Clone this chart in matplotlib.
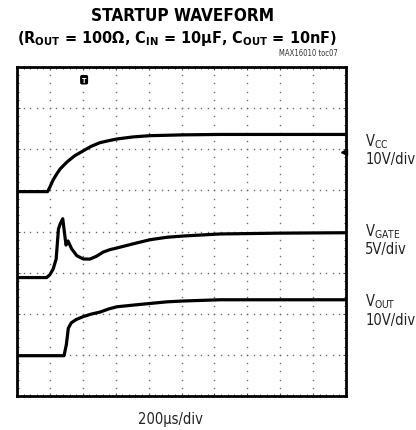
import numpy as np
import matplotlib
matplotlib.use('Agg')
import matplotlib.pyplot as plt

# condensed sans to mimic the narrow datasheet lettering
plt.rcParams['font.family'] = ['DejaVu Sans']
plt.rcParams['font.stretch'] = 'condensed'
plt.rcParams['mathtext.fontset'] = 'custom'
plt.rcParams['mathtext.rm'] = 'DejaVu Sans:stretch=condensed'
plt.rcParams['mathtext.bf'] = 'DejaVu Sans:weight=bold:stretch=condensed'

# DATA (in scope divisions: x 0..10, y 0..8)
vcc_x = [0, 0.93, 1.0, 1.09, 1.2, 1.31, 1.52, 1.75, 2.01, 2.25, 2.52, 2.8, 3.04, 3.53, 4.04, 5.05, 6.17, 8.0, 10.0]
vcc_y = [4.97, 4.97, 5.08, 5.24, 5.39, 5.52, 5.69, 5.84, 5.96, 6.07, 6.16, 6.21, 6.25, 6.30, 6.33, 6.35, 6.36, 6.36, 6.36]

vgate_x = [0, 0.90, 1.00, 1.10, 1.19, 1.26, 1.31, 1.39, 1.44, 1.49, 1.55, 1.66, 1.82, 2.02, 2.22,
           2.42, 2.62, 2.83, 3.04, 3.53, 4.04, 4.56, 5.05, 6.17, 8.0, 10.0]
vgate_y = [2.88, 2.88, 2.95, 3.09, 3.33, 4.06, 4.18, 4.31, 3.99, 3.67, 3.77, 3.58, 3.41, 3.33, 3.33,
           3.40, 3.50, 3.56, 3.60, 3.70, 3.80, 3.86, 3.89, 3.94, 3.96, 3.97]

vout_x = [0, 1.43, 1.50, 1.56, 1.65, 1.80, 2.01, 2.25, 2.52, 2.8, 3.04, 3.53, 4.04, 4.56, 5.05, 6.17, 8.0, 10.0]
vout_y = [0.98, 0.98, 1.25, 1.65, 1.78, 1.86, 1.93, 1.99, 2.04, 2.12, 2.17, 2.21, 2.25, 2.29, 2.31, 2.34, 2.34, 2.34]

trace_labels = [r'V$_{\mathrm{CC}}$' + '\n10V/div',
                r'V$_{\mathrm{GATE}}$' + '\n5V/div',
                r'V$_{\mathrm{OUT}}$' + '\n10V/div']
label_y = [6.02, 3.83, 2.11]   # label block centres (divisions)

N_XDIV, N_YDIV = 10, 8
TRIG_X = 2.04
GND_Y = 5.93

W, H = 416, 431
fig = plt.figure(figsize=(W / 100, H / 100), dpi=100)
ax = fig.add_axes([17 / W, 34 / H, 329 / W, 329 / H])
ax.set_xlim(0, N_XDIV)
ax.set_ylim(0, N_YDIV)

# dotted graticule
xs_minor = np.arange(0, N_XDIV + 0.01, 0.2)
ys_minor = np.arange(0, N_YDIV + 0.01, 0.2)
for gy in range(1, N_YDIV):
    ax.plot(xs_minor, np.full_like(xs_minor, gy), ls='none', marker='s', ms=1.0,
            mew=0, color='#6a6a6a', zorder=1)
for gx in range(1, N_XDIV):
    ax.plot(np.full_like(ys_minor, gx), ys_minor, ls='none', marker='s', ms=1.0,
            mew=0, color='#6a6a6a', zorder=1)

ax.set_xticks(np.arange(0, N_XDIV + 1, 1))
ax.set_yticks(np.arange(0, N_YDIV + 1, 1))
ax.set_xticks(xs_minor, minor=True)
ax.set_yticks(ys_minor, minor=True)
ax.tick_params(which='both', direction='in', top=True, right=True,
               labelbottom=False, labelleft=False, color='#444')
ax.tick_params(which='major', length=2.5, width=0.8)
ax.tick_params(which='minor', length=1.6, width=0.7)
for s in ax.spines.values():
    s.set_linewidth(2.0)

# traces
for tx, ty in [(vcc_x, vcc_y), (vgate_x, vgate_y), (vout_x, vout_y)]:
    ax.plot(tx, ty, color='black', lw=2.3, solid_capstyle='butt', zorder=3)

# trigger marker and ground pointer
ax.text(TRIG_X, 7.69, 'T', ha='center', va='center', fontsize=5, color='white',
        fontweight='bold', bbox=dict(boxstyle='round,pad=0.15', fc='black', ec='black'))
ax.plot([N_XDIV - 0.06], [GND_Y], marker='<', ms=4, color='black', clip_on=False, zorder=4)

# right-hand channel labels
for lab, ly in zip(trace_labels, label_y):
    ax.text(N_XDIV + 0.58, ly, lab, ha='left', va='center', fontsize=10.5,
            linespacing=1.1, color='#222', clip_on=False)

# titles
fig.text(183 / W, 1 - 16 / H, 'STARTUP WAVEFORM', ha='center', va='center',
         fontsize=12.3, fontweight='bold')
fig.text(177 / W, 1 - 39 / H,
         r'(R$_{\mathbf{OUT}}$ = 100Ω, C$_{\mathbf{IN}}$ = 10μF, C$_{\mathbf{OUT}}$ = 10nF)',
         ha='center', va='center', fontsize=11.6, fontweight='bold')
fig.text(338 / W, 1 - 54 / H, 'MAX16010 toc07', ha='right', va='center',
         fontsize=5.5, color='#333')
fig.text(170 / W, 1 - 420 / H, '200μs/div', ha='center', va='center',
         fontsize=10.5, color='#222')

fig.savefig('out.png', dpi=100)
